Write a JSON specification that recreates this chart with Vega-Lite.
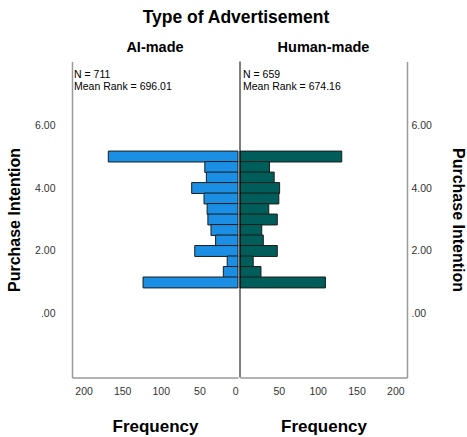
{
  "$schema": "https://vega.github.io/schema/vega-lite/v6.json",
  "padding": {"left": 6, "top": 8.5, "right": 0, "bottom": 0},
  "title": {"text": "Type of Advertisement", "fontSize": 17.5, "fontWeight": "bold", "font": "Liberation Sans", "color": "#000000", "anchor": "middle", "offset": 13.5},
  "datasets": {
    "freq": [
      {"group": "AI-made", "value": 5.0, "count": 168},
      {"group": "AI-made", "value": 4.667, "count": 43},
      {"group": "AI-made", "value": 4.333, "count": 41},
      {"group": "AI-made", "value": 4.0, "count": 60},
      {"group": "AI-made", "value": 3.667, "count": 44},
      {"group": "AI-made", "value": 3.333, "count": 40},
      {"group": "AI-made", "value": 3.0, "count": 39},
      {"group": "AI-made", "value": 2.667, "count": 35},
      {"group": "AI-made", "value": 2.333, "count": 29},
      {"group": "AI-made", "value": 2.0, "count": 56},
      {"group": "AI-made", "value": 1.667, "count": 14},
      {"group": "AI-made", "value": 1.333, "count": 19},
      {"group": "AI-made", "value": 1.0, "count": 123},
      {"group": "Human-made", "value": 5.0, "count": 131},
      {"group": "Human-made", "value": 4.667, "count": 38},
      {"group": "Human-made", "value": 4.333, "count": 44},
      {"group": "Human-made", "value": 4.0, "count": 51},
      {"group": "Human-made", "value": 3.667, "count": 50},
      {"group": "Human-made", "value": 3.333, "count": 37},
      {"group": "Human-made", "value": 3.0, "count": 48},
      {"group": "Human-made", "value": 2.667, "count": 28},
      {"group": "Human-made", "value": 2.333, "count": 30},
      {"group": "Human-made", "value": 2.0, "count": 48},
      {"group": "Human-made", "value": 1.667, "count": 17},
      {"group": "Human-made", "value": 1.333, "count": 27},
      {"group": "Human-made", "value": 1.0, "count": 110}
    ]
  },
  "spacing": 0,
  "hconcat": [
    {
      "title": {"text": "AI-made", "fontSize": 14.5, "fontWeight": "bold", "font": "Liberation Sans", "anchor": "middle", "offset": 6, "color": "#000000"},
      "width": 166,
      "height": 316,
      "layer": [
        {
          "data": {"name": "freq"},
          "transform": [{"filter": "datum.group == 'AI-made'"}],
          "mark": {"type": "bar", "orient": "horizontal", "size": 10.9, "color": "#1A8FE3", "stroke": "#1c1c1c", "strokeWidth": 1},
          "encoding": {
            "x": {"field": "count", "type": "quantitative", "scale": {"domain": [0, 215], "reverse": true, "nice": false}, "axis": {"title": "Frequency", "titleFontSize": 17, "values": [0, 50, 100, 150, 200], "labelPadding": 9, "titlePadding": 21}},
            "y": {"field": "value", "type": "quantitative", "scale": {"domain": [-1.86, 7.86], "nice": false, "zero": false}, "axis": {"orient": "left", "title": "Purchase Intention", "values": [0, 2, 4, 6], "labelExpr": "datum.value == 0 ? '.00' : format(datum.value, '.2f')", "labelPadding": 17, "titlePadding": 12}}
          }
        },
        {
          "data": {"values": [{"N": 711, "meanRank": 696.01}]},
          "mark": {"type": "text", "align": "left", "baseline": "top", "font": "Liberation Sans", "fontSize": 10.5, "lineHeight": 12, "dx": 2, "dy": 3, "color": "#000000", "text": ["N = 711", "Mean Rank = 696.01"]},
          "encoding": {"x": {"datum": 215}, "y": {"datum": 7.86}}
        }
      ]
    },
    {
      "title": {"text": "Human-made", "fontSize": 14.5, "fontWeight": "bold", "font": "Liberation Sans", "anchor": "middle", "offset": 6, "color": "#000000"},
      "width": 167,
      "height": 316,
      "layer": [
        {
          "data": {"name": "freq"},
          "transform": [{"filter": "datum.group == 'Human-made'"}],
          "mark": {"type": "bar", "orient": "horizontal", "size": 10.9, "color": "#005E5A", "stroke": "#1c1c1c", "strokeWidth": 1},
          "encoding": {
            "x": {"field": "count", "type": "quantitative", "scale": {"domain": [0, 215], "nice": false}, "axis": {"title": "Frequency", "titleFontSize": 17, "values": [50, 100, 150, 200], "labelPadding": 9, "titlePadding": 21}},
            "y": {"field": "value", "type": "quantitative", "scale": {"domain": [-1.86, 7.86], "nice": false, "zero": false}, "axis": {"orient": "right", "title": "Purchase Intention", "values": [0, 2, 4, 6], "labelExpr": "datum.value == 0 ? '.00' : format(datum.value, '.2f')", "labelPadding": 4, "titlePadding": 18}}
          }
        },
        {
          "data": {"values": [{"N": 659, "meanRank": 674.16}]},
          "mark": {"type": "text", "align": "left", "baseline": "top", "font": "Liberation Sans", "fontSize": 10.5, "lineHeight": 12, "dx": 3, "dy": 3, "color": "#000000", "text": ["N = 659", "Mean Rank = 674.16"]},
          "encoding": {"x": {"datum": 0}, "y": {"datum": 7.86}}
        },
        {
          "data": {"values": [{"zero": 0}]},
          "mark": {"type": "rule", "color": "#000000", "strokeWidth": 1},
          "encoding": {"x": {"datum": 0}}
        }
      ]
    }
  ],
  "config": {
    "view": {"stroke": null},
    "axis": {"labelFont": "Liberation Sans", "labelFontSize": 10.5, "labelColor": "#333333", "titleFont": "Liberation Sans", "titleFontSize": 16, "titleFontWeight": "bold", "titleColor": "#000000", "grid": false, "ticks": false, "tickSize": 0, "domainColor": "#9a9a9a", "domainWidth": 1.5}
  }
}
